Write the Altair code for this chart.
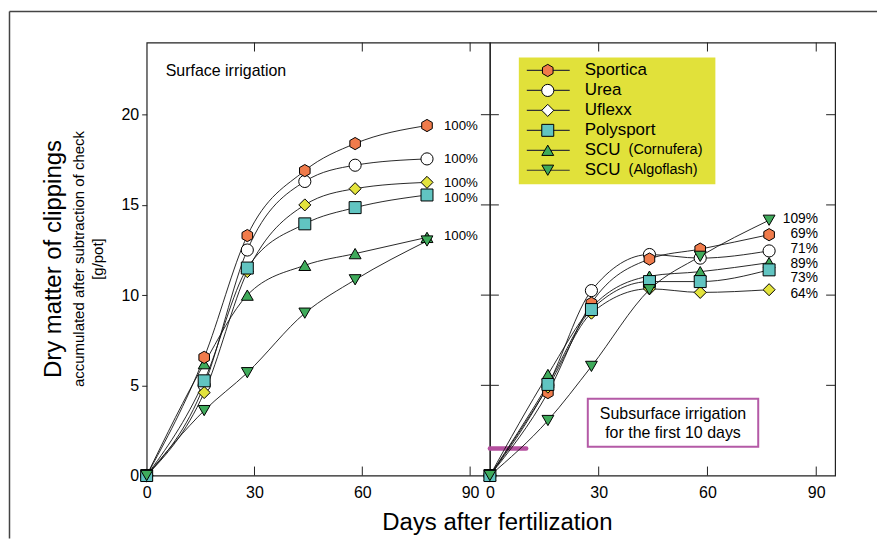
import altair as alt
import pandas as pd

# ---------------- data ----------------
series = ["Sportica", "Urea", "Uflexx", "Polysport", "SCU (Cornufera)", "SCU (Algoflash)"]
fills = ["#f07b4b", "#ffffff", "#e3e33c", "#61c4c1", "#3fab5b", "#3fab5b"]
legend_fills = ["#f07b4b", "#ffffff", "#ffffff", "#61c4c1", "#3fab5b", "#3fab5b"]
HEX = "M0,-1L0.866,-0.5L0.866,0.5L0,1L-0.866,0.5L-0.866,-0.5Z"
shapes = [HEX, "circle", "diamond", "square", "triangle-up", "triangle-down"]
sizes = [150, 140, 170, 130, 150, 150]
draw_order = ["Urea", "SCU (Cornufera)", "Sportica", "Uflexx", "Polysport", "SCU (Algoflash)"]

legend_names = ["Sportica", "Urea", "Uflexx", "Polysport", "SCU", "SCU"]
legend_parens = ["", "", "", "", "(Cornufera)", "(Algoflash)"]

days_surface = [0, 16, 28, 44, 58, 78]
days_subsurface = [0, 16, 28, 44, 58, 77]

surface = {
    "Sportica": [0, 6.55, 13.3, 16.9, 18.4, 19.4],
    "Urea": [0, 5.0, 12.5, 16.3, 17.2, 17.55],
    "Uflexx": [0, 4.6, 11.3, 15.0, 15.9, 16.25],
    "Polysport": [0, 5.25, 11.5, 13.95, 14.85, 15.55],
    "SCU (Cornufera)": [0, 6.2, 10.0, 11.65, 12.3, 13.2],
    "SCU (Algoflash)": [0, 3.6, 5.7, 9.0, 10.85, 13.0],
}
subsurface = {
    "Sportica": [0, 4.6, 9.55, 12.0, 12.55, 13.35],
    "Urea": [0, 5.0, 10.25, 12.25, 12.05, 12.45],
    "Uflexx": [0, 4.9, 9.0, 10.35, 10.15, 10.3],
    "Polysport": [0, 5.05, 9.2, 10.75, 10.75, 11.4],
    "SCU (Cornufera)": [0, 5.6, 9.3, 11.05, 11.3, 11.8],
    "SCU (Algoflash)": [0, 3.05, 6.05, 10.3, 12.15, 14.15],
}

surface_label_series = ["Sportica", "Urea", "Uflexx", "Polysport", "SCU (Cornufera)"]
surface_label_text = ["100%", "100%", "100%", "100%", "100%"]
surface_label_y = [19.4, 17.53, 16.2, 15.38, 13.27]

sub_label_series = ["SCU (Algoflash)", "Sportica", "Urea", "SCU (Cornufera)", "Polysport", "Uflexx"]
sub_label_text = ["109%", "69%", "71%", "89%", "73%", "64%"]
sub_label_y = [14.22, 13.4, 12.55, 11.75, 10.95, 10.07]

x_tick_days = [30, 60, 90]
y_tick_values = [5, 10, 15, 20]
x_label_values = [0, 30, 60, 90]
y_label_values = [0, 5, 10, 15, 20]

box_days = [27.0, 74.0]
box_values = [4.26, 1.6]
box_lines = ["Subsurface irrigation", "for the first 10 days"]
box_line_values = [3.43, 2.38]
irrigation_days = [0, 10]
irrigation_value = 1.5

# ---------------- frames ----------------
def long_frame(days, table):
    rows = []
    for name in draw_order:
        for d, v in zip(days, table[name]):
            rows.append({"series": name, "day": d, "value": v})
    return pd.DataFrame(rows)

df_surface = long_frame(days_surface, surface)
df_sub = long_frame(days_subsurface, subsurface)

lab_surface = pd.DataFrame({"series": surface_label_series, "text": surface_label_text,
                            "value": surface_label_y, "day": [days_surface[-1]] * 5})
lab_sub = pd.DataFrame({"series": sub_label_series, "text": sub_label_text,
                        "value": sub_label_y, "day": [days_subsurface[-1]] * 6})
leg_df = pd.DataFrame({"series": series, "name": legend_names, "paren": legend_parens})

xt = pd.DataFrame({"day": x_tick_days})
yt = pd.DataFrame({"value": y_tick_values})
one = pd.DataFrame({"a": [0]})

FONT = "Liberation Sans"
H = 434
W_L = 344
W_R = 346
LINE = "#222222"
YELLOW = "#e1e13a"

fill_scale = alt.Scale(domain=series, range=fills)
legend_fill_scale = alt.Scale(domain=series, range=legend_fills)
shape_scale = alt.Scale(domain=series, range=shapes)
size_scale = alt.Scale(domain=series, range=sizes)


def make_panel(df, lab, width, xmax, left, label_dx, label_size):
    xs = alt.Scale(domain=[0, xmax], nice=False, zero=False)
    ys = alt.Scale(domain=[0, 24], nice=False, zero=False)
    if left:
        xaxis = alt.Axis(values=x_label_values, ticks=False, domain=False, grid=False,
                         labelFontSize=16, labelPadding=9, labelFlush=False,
                         title="Days after fertilization", titleFontSize=24,
                         titleFontWeight="normal", titleFont=FONT, titleColor="black",
                         titleX=351, titleY=35, titleAlign="center", titleBaseline="top")
        yaxis = alt.Axis(values=y_label_values, tickSize=5, tickColor=LINE, domain=False,
                         grid=False, labelFontSize=16, labelPadding=3, title=None)
    else:
        xaxis = alt.Axis(values=x_label_values, ticks=False, domain=False, grid=False,
                         labelFontSize=16, labelPadding=9, labelFlush=False, title=None)
        yaxis = alt.Axis(labels=False, ticks=False, domain=False, grid=False, title=None)

    def X(f="day"):
        return alt.X(f"{f}:Q", scale=xs, axis=xaxis)

    def Y(f="value"):
        return alt.Y(f"{f}:Q", scale=ys, axis=yaxis)

    lines = alt.Chart(df).mark_line(interpolate="monotone", color="#111111",
                                    strokeWidth=0.9).encode(x=X(), y=Y(), detail="series:N")
    points = alt.Chart(df).mark_point(filled=True, opacity=1, stroke="black",
                                      strokeWidth=1).encode(
        x=X(), y=Y(),
        fill=alt.Fill("series:N", scale=fill_scale, legend=None),
        shape=alt.Shape("series:N", scale=shape_scale, legend=None),
        size=alt.Size("series:N", scale=size_scale, legend=None),
    )
    labels = alt.Chart(lab).mark_text(align="right", baseline="middle", dx=label_dx,
                                      font=FONT, fontSize=label_size, color="black").encode(
        x=X(), y=Y(), text="text:N")

    bottom_ticks = alt.Chart(xt).mark_rule(color=LINE, strokeWidth=1).encode(
        x=X(), y=alt.value(H), y2=alt.value(H - 9))
    top_ticks = alt.Chart(xt).mark_rule(color=LINE, strokeWidth=1).encode(
        x=X(), y=alt.value(0), y2=alt.value(9))
    if left:
        side_ticks = alt.Chart(yt).mark_rule(color=LINE, strokeWidth=1).encode(
            y=Y(), x=alt.value(width - 9), x2=alt.value(width + 9))
    else:
        side_ticks = alt.Chart(yt).mark_rule(color=LINE, strokeWidth=1).encode(
            y=Y(), x=alt.value(width - 9), x2=alt.value(width))

    layers = [lines, points, labels, bottom_ticks, top_ticks, side_ticks]

    if left:
        note = alt.Chart(one).mark_text(align="left", baseline="middle", font=FONT,
                                        fontSize=16, color="black").encode(
            x=alt.value(19), y=alt.value(29), text=alt.value("Surface irrigation"))
        t1 = alt.Chart(one).mark_text(angle=270, align="center", baseline="middle", font=FONT,
                                      fontSize=24, color="black").encode(
            x=alt.value(-93), y=alt.value(H / 2), text=alt.value("Dry matter of clippings"))
        t2 = alt.Chart(one).mark_text(angle=270, align="center", baseline="middle", font=FONT,
                                      fontSize=15, color="black").encode(
            x=alt.value(-68), y=alt.value(H / 2),
            text=alt.value("accumulated after subtraction of check"))
        t3 = alt.Chart(one).mark_text(angle=270, align="center", baseline="middle", font=FONT,
                                      fontSize=15, color="black").encode(
            x=alt.value(-49), y=alt.value(H / 2), text=alt.value("[g/pot]"))
        border_top = alt.Chart(one).mark_rule(color="#444444", strokeWidth=1.5).encode(
            x=alt.value(-137.5), x2=alt.value(732), y=alt.value(-31))
        border_left = alt.Chart(one).mark_rule(color="#444444", strokeWidth=1.5).encode(
            x=alt.value(-137.5), y=alt.value(-31), y2=alt.value(497))
        layers += [note, t1, t2, t3, border_top, border_left]
        return alt.layer(*layers).properties(width=width, height=H)

    box_df = pd.DataFrame({"day": [box_days[0]], "day2": [box_days[1]],
                           "value": [box_values[0]], "value2": [box_values[1]]})
    box = alt.Chart(box_df).mark_rect(fill="white", stroke="#b45aa6", strokeWidth=2).encode(
        x=X(), x2="day2:Q", y=Y(), y2="value2:Q")
    box_text_df = pd.DataFrame({"day": [(box_days[0] + box_days[1]) / 2] * 2,
                                "value": box_line_values, "text": box_lines})
    box_text = alt.Chart(box_text_df).mark_text(align="center", baseline="middle", font=FONT,
                                                fontSize=16, color="black").encode(
        x=X(), y=Y(), text="text:N")
    bar_df = pd.DataFrame({"day": [irrigation_days[0]], "day2": [irrigation_days[1]],
                           "value": [irrigation_value]})
    bar = alt.Chart(bar_df).mark_rule(color="#b5509f", strokeWidth=4.5,
                                      strokeCap="round").encode(
        x=X(), x2="day2:Q", y=Y())
    main = alt.layer(*([bar, box, box_text] + layers))

    # manual legend (yellow box, line-through symbols, labels)
    ly = alt.Y("series:N", scale=alt.Scale(type="point", domain=series, range=[28, 128],
                                           padding=0), axis=None)
    bg = alt.Chart(one).mark_rect(fill=YELLOW).encode(
        x=alt.value(29), x2=alt.value(226), y=alt.value(15), y2=alt.value(142))
    segs = alt.Chart(leg_df).mark_rule(color="#333333", strokeWidth=1.2).encode(
        x=alt.value(37), x2=alt.value(80), y=ly)
    syms = alt.Chart(leg_df).mark_point(filled=True, opacity=1, stroke="black",
                                        strokeWidth=1).encode(
        x=alt.value(58), y=ly,
        fill=alt.Fill("series:N", scale=legend_fill_scale, legend=None),
        shape=alt.Shape("series:N", scale=shape_scale, legend=None),
        size=alt.Size("series:N", scale=size_scale, legend=None),
    )
    names = alt.Chart(leg_df).mark_text(align="left", baseline="middle", font=FONT,
                                        fontSize=17, color="black").encode(
        x=alt.value(95), y=ly, text="name:N")
    parens = alt.Chart(leg_df[leg_df["paren"] != ""]).mark_text(
        align="left", baseline="middle", font=FONT, fontSize=14.5, color="black").encode(
        x=alt.value(139), y=ly, text="paren:N")
    legend = alt.layer(bg, segs, syms, names, parens)

    return alt.layer(main, legend).resolve_scale(y="independent", fill="independent").properties(
        width=width, height=H)


left = make_panel(df_surface, lab_surface, W_L, 95.5, True, 51, 13.3)
right = make_panel(df_sub, lab_sub, W_R, 95.2, False, 49, 13.8)

chart = alt.hconcat(left, right, spacing=0, bounds="flush").resolve_scale(
    x="independent", y="independent", fill="independent", shape="independent",
    size="independent"
).properties(
    padding={"left": 0, "top": 1, "right": 0, "bottom": 0}
).configure_view(
    stroke=LINE, strokeWidth=1.2
).configure_axis(
    labelFont=FONT, labelColor="black", titleFont=FONT
)

chart.save("out.html", embed_options={"renderer": "svg", "actions": False})
